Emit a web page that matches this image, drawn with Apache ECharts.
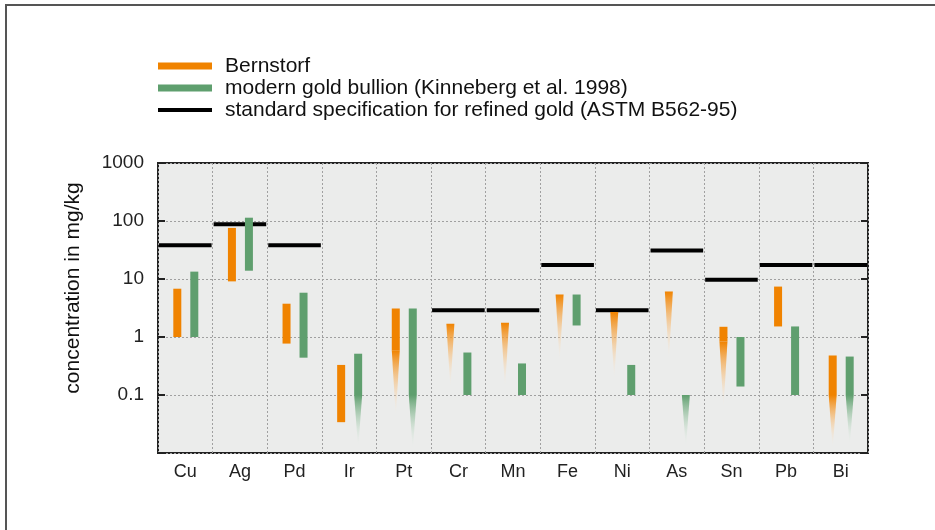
<!DOCTYPE html>
<html>
<head>
<meta charset="utf-8">
<script src="https://cdn.jsdelivr.net/npm/echarts@6/dist/echarts.min.js"></script>
<style>
  html, body { margin: 0; padding: 0; background: #fff; }
  #chart { width: 935px; height: 530px; }
</style>
</head>
<body>
<div id="chart"></div>
<script>
// elements on the x axis
var elements = ['Cu', 'Ag', 'Pd', 'Ir', 'Pt', 'Cr', 'Mn', 'Fe', 'Ni', 'As', 'Sn', 'Pb', 'Bi']

// Bernstorf: top of range, end of the solid part, end of the fading tip (null = no tip)
var bernTop   = [6.8, 76, 3.75, 0.33, 3.1, 1.7, 1.76, 5.4, 2.7, 6.1, 1.5, 7.4, 0.48]
var bernSolid = [1, 9.1, 0.77, 0.034, 0.59, 1.7, 1.76, 5.4, 2.7, 6.1, 0.83, 1.52, 0.1]
var bernTip   = [null, null, null, null, 0.042, 0.13, 0.13, 0.37, 0.18, 0.4, 0.058, null, 0.012]

// modern gold bullion (Kinneberg et al. 1998)
var bullTop   = [13.4, 114, 5.8, 0.515, 3.1, 0.54, 0.35, 5.4, 0.33, 0.1, 1.0, 1.52, 0.46]
var bullSolid = [1, 13.9, 0.44, 0.1, 0.1, 0.1, 0.1, 1.58, 0.1, 0.1, 0.14, 0.1, 0.1]
var bullTip   = [null, null, null, 0.012, 0.011, null, null, null, null, 0.012, null, null, 0.013]

// ASTM B562-95 limits (null = no limit drawn)
var astm = [38, 88, 38, null, null, 2.9, 2.9, 17.5, 2.9, 31, 9.7, 17.5, 17.5]

var yTicks = [0.1, 1, 10, 100, 1000]

var ORANGE = '#f08300'
var GREEN = '#5f9f6e'
var FONT = 'Liberation Sans'
var barW = 8

function rangeData (top, solid, tip) {
  return top.map(function (t, i) {
    return [i, t, solid[i], tip[i] === null ? NaN : tip[i]]
  })
}

// draws a solid bar and, below it, a tapering tip that fades out
function rangeItem (color, fade, shift) {
  return function (params, api) {
    var idx = api.value(0)
    var top = api.coord([idx, api.value(1)])
    var x = top[0] + shift - barW / 2
    var ySolid = api.coord([idx, api.value(2)])[1]
    var children = []
    if (ySolid - top[1] > 0.5) {
      children.push({
        type: 'rect',
        shape: { x: x, y: top[1], width: barW, height: ySolid - top[1] },
        style: { fill: color }
      })
    }
    var tip = api.value(3)
    if (tip > 0) {
      var yTip = api.coord([idx, tip])[1]
      children.push({
        type: 'polygon',
        shape: { points: [[x, ySolid], [x + barW, ySolid], [x + barW / 2, yTip]] },
        style: {
          fill: new echarts.graphic.LinearGradient(0, 0, 0, 1, [
            { offset: 0, color: color },
            { offset: 1, color: fade }
          ])
        }
      })
    }
    return { type: 'group', children: children }
  }
}

function limitItem (params, api) {
  var idx = api.value(0)
  var c = api.coord([idx, api.value(1)])
  var band = api.size([1, 0])[0]
  return {
    type: 'line',
    shape: { x1: c[0] - band / 2 + 1, y1: c[1], x2: c[0] + band / 2 - 1, y2: c[1] },
    style: { stroke: '#000', lineWidth: 4 }
  }
}

var limitData = []
astm.forEach(function (v, i) {
  if (v !== null) limitData.push([i, v])
})

var myChart = echarts.init(document.getElementById('chart'), null, { renderer: 'canvas' })

var legendRows = [
  { text: 'Bernstorf', color: ORANGE, h: 7, y: 66 },
  { text: 'modern gold bullion (Kinneberg et al. 1998)', color: GREEN, h: 7, y: 88 },
  { text: 'standard specification for refined gold (ASTM B562-95)', color: '#000', h: 4, y: 110 }
]
var legendGraphics = []
legendRows.forEach(function (r) {
  legendGraphics.push({
    type: 'rect', left: 158, top: r.y - r.h / 2,
    shape: { width: 54, height: r.h },
    style: { fill: r.color }
  })
  legendGraphics.push({
    type: 'text', x: 225, y: r.y,
    style: { text: r.text, fill: '#111', font: '21px "' + FONT + '"', verticalAlign: 'middle' }
  })
})

var option = {
  animation: false,
  textStyle: { fontFamily: FONT },
  grid: {
    left: 158, right: 67, top: 163, bottom: 77,
    show: true,
    backgroundColor: '#ebeceb',
    borderColor: '#222',
    borderWidth: 2
  },
  graphic: [
    {
      type: 'polyline',
      shape: { points: [[6, 530], [6, 5], [935, 5]] },
      style: { stroke: '#555', lineWidth: 2, fill: null }
    },
    {
      // y axis title
      type: 'text',
      x: 73, y: 288,
      rotation: Math.PI / 2,
      style: {
        text: 'concentration in mg/kg',
        fill: '#111',
        font: '21px "' + FONT + '"',
        align: 'center',
        verticalAlign: 'middle'
      }
    }
  ].concat(legendGraphics),
  xAxis: {
    type: 'category',
    data: elements,
    boundaryGap: true,
    axisLine: { show: false },
    axisTick: { show: false },
    axisLabel: { color: '#222', fontSize: 18, margin: 10, fontFamily: FONT },
    splitLine: {
      show: true,
      interval: 0,
      lineStyle: { color: '#a0a0a0', type: [2, 2], width: 1 }
    }
  },
  yAxis: [
    {
      type: 'log',
      logBase: 10,
      min: 0.01,
      max: 1000,
      axisLine: { show: false },
      axisTick: { show: true, inside: true, length: 7, lineStyle: { color: '#222', width: 2 } },
      axisLabel: {
        color: '#222',
        fontSize: 19,
        margin: 14,
        fontFamily: FONT,
        formatter: function (v) {
          for (var i = 0; i < yTicks.length; i++) {
            if (Math.abs(v - yTicks[i]) < yTicks[i] * 0.01) return String(yTicks[i])
          }
          return ''
        }
      },
      splitLine: { show: true, lineStyle: { color: '#a0a0a0', type: [2, 2], width: 1 } }
    },
    {
      type: 'log',
      logBase: 10,
      min: 0.01,
      max: 1000,
      position: 'right',
      axisLine: { show: false },
      axisTick: { show: true, inside: true, length: 7, lineStyle: { color: '#222', width: 2 } },
      axisLabel: { show: false },
      splitLine: { show: false }
    }
  ],
  series: [
    {
      name: 'standard specification for refined gold (ASTM B562-95)',
      type: 'custom',
      renderItem: limitItem,
      data: limitData,
      encode: { x: 0, y: 1 },
      z: 2
    },
    {
      name: 'Bernstorf',
      type: 'custom',
      renderItem: rangeItem(ORANGE, 'rgba(255,240,225,0)', -8),
      data: rangeData(bernTop, bernSolid, bernTip),
      encode: { x: 0, y: [1, 2] },
      z: 3
    },
    {
      name: 'modern gold bullion (Kinneberg et al. 1998)',
      type: 'custom',
      renderItem: rangeItem(GREEN, 'rgba(235,245,238,0)', 9),
      data: rangeData(bullTop, bullSolid, bullTip),
      encode: { x: 0, y: [1, 2] },
      z: 3
    }
  ]
}
myChart.setOption(option, true)
</script>
</body>
</html>
